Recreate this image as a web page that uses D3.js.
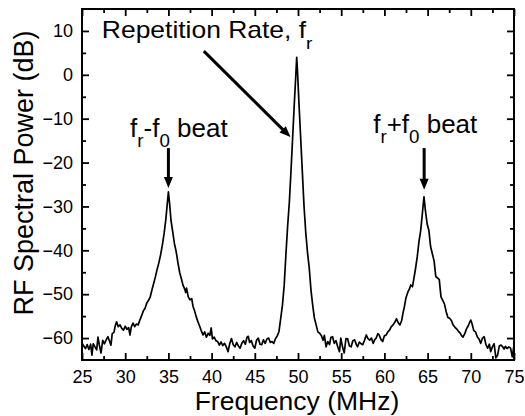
<!DOCTYPE html>
<html>
<head>
<meta charset="utf-8">
<script src="https://cdn.jsdelivr.net/npm/d3@7/dist/d3.min.js"></script>
<style>
	body { margin: 0; background: #fff; }
	svg text { font-family: "Liberation Sans", Arial, Helvetica, sans-serif; fill: #000; }
</style>
</head>
<body>
<div id="wrapper"></div>
<script>
// Spectrum (MHz, dB)
const freqMHz = [
	25.0, 25.2, 25.4, 25.6, 25.8, 26.0, 26.15, 26.3, 26.5, 26.7, 26.85, 27.0, 27.2, 27.4, 27.6, 27.8,
	28.0, 28.2, 28.35, 28.5, 28.7, 28.85, 29.0, 29.2, 29.4, 29.6, 29.8, 30.0, 30.2, 30.4, 30.55, 30.7,
	30.9, 31.1, 31.3, 31.5, 31.7, 31.9, 32.1, 32.3, 32.5, 32.7, 32.9, 33.1, 33.3, 33.5, 33.7, 33.9,
	34.1, 34.3, 34.5, 34.7, 34.85, 35.0, 35.15, 35.3, 35.5, 35.7, 35.9, 36.1, 36.3, 36.5, 36.7, 36.9,
	37.0, 37.1, 37.3, 37.5, 37.7, 37.85, 38.0, 38.2, 38.4, 38.6, 38.8, 39.0, 39.2, 39.4, 39.6, 39.8,
	39.95, 40.1, 40.3, 40.5, 40.7, 40.9, 41.1, 41.3, 41.5, 41.7, 41.9, 42.1, 42.3, 42.5, 42.7, 42.9,
	43.1, 43.3, 43.5, 43.7, 43.9, 44.1, 44.25, 44.4, 44.6, 44.8, 45.0, 45.2, 45.4, 45.6, 45.8, 46.0,
	46.2, 46.4, 46.6, 46.8, 47.0, 47.2, 47.4, 47.6, 47.8, 48.0, 48.2, 48.4, 48.6, 48.8, 49.0, 49.2,
	49.4, 49.6, 49.75, 49.85, 49.95, 50.1, 50.3, 50.5, 50.7, 50.9, 51.1, 51.3, 51.5, 51.7, 51.9, 52.1,
	52.3, 52.5, 52.7, 52.9, 53.05, 53.25, 53.45, 53.65, 53.8, 54.0, 54.2, 54.4, 54.6, 54.8, 54.95, 55.15,
	55.35, 55.55, 55.75, 55.95, 56.15, 56.35, 56.55, 56.75, 56.9, 57.1, 57.3, 57.5, 57.7, 57.9, 58.1, 58.3,
	58.5, 58.7, 58.9, 59.05, 59.25, 59.4, 59.6, 59.8, 60.0, 60.2, 60.4, 60.6, 60.8, 61.0, 61.2, 61.4,
	61.6, 61.8, 62.0, 62.15, 62.3, 62.5, 62.7, 62.9, 63.05, 63.25, 63.45, 63.6, 63.8, 64.0, 64.2, 64.4,
	64.58, 64.75, 64.95, 65.15, 65.35, 65.55, 65.75, 65.95, 66.15, 66.35, 66.55, 66.75, 66.95, 67.15, 67.35, 67.55,
	67.75, 67.95, 68.15, 68.35, 68.55, 68.75, 68.95, 69.1, 69.3, 69.5, 69.7, 69.85, 70.0, 70.15, 70.35, 70.55,
	70.75, 70.95, 71.15, 71.35, 71.55, 71.75, 71.95, 72.15, 72.3, 72.5, 72.7, 72.9, 73.1, 73.3, 73.5, 73.7,
	73.85, 74.0, 74.2, 74.4, 74.6, 74.8, 75.0
];
const powerDb = [
	-61.2, -61.8, -62.4, -61.5, -62.6, -61.4, -63.9, -61.3, -62.0, -62.7, -59.8, -61.5, -63.4, -60.5, -61.3, -60.4,
	-59.7, -60.8, -61.6, -59.0, -58.7, -57.2, -56.3, -57.4, -57.0, -57.8, -58.2, -57.3, -58.0, -57.6, -59.3, -57.5,
	-56.6, -57.4, -56.8, -57.0, -55.9, -54.9, -53.8, -53.2, -52.0, -51.4, -50.6, -49.0, -47.5, -46.0, -44.3, -42.8,
	-41.0, -38.8, -36.2, -33.0, -29.8, -26.7, -29.6, -33.2, -35.8, -38.5, -40.3, -42.8, -45.0, -46.5, -48.0, -48.9,
	-49.6, -48.6, -50.6, -51.3, -51.0, -52.8, -53.6, -55.0, -56.2, -57.2, -58.3, -59.3, -58.6, -59.8, -58.9, -59.4,
	-57.7, -60.2, -59.8, -60.6, -60.8, -61.6, -60.9, -61.7, -61.2, -62.0, -63.1, -61.3, -60.1, -61.5, -62.0, -61.0,
	-61.8, -62.3, -61.2, -60.6, -61.4, -59.8, -59.6, -61.0, -60.6, -61.8, -62.3, -60.5, -60.0, -61.4, -61.5, -60.4,
	-61.2, -60.2, -60.0, -61.0, -60.8, -61.2, -60.1, -59.5, -58.5, -55.5, -52.5, -48.0, -41.0, -34.5, -29.0, -21.5,
	-13.5, -5.5, 0.0, 4.0, 0.5, -6.0, -14.0, -22.0, -30.0, -36.0, -40.5, -44.0, -49.0, -52.5, -55.5, -57.0,
	-58.6, -58.9, -59.4, -60.5, -59.4, -62.0, -60.8, -61.5, -59.9, -59.7, -61.2, -60.6, -62.0, -63.1, -60.0, -62.0,
	-63.4, -60.1, -60.2, -61.8, -62.0, -60.6, -60.4, -61.5, -62.0, -60.9, -61.3, -61.5, -60.5, -59.3, -60.1, -60.5,
	-60.0, -61.2, -60.3, -60.0, -59.0, -59.3, -60.3, -60.8, -59.5, -59.3, -58.6, -58.2, -57.4, -57.0, -56.4, -55.6,
	-56.5, -57.0, -56.0, -54.3, -53.0, -50.8, -49.6, -48.8, -47.9, -48.3, -46.0, -44.2, -41.5, -38.0, -35.5, -31.5,
	-27.8, -31.0, -34.0, -35.5, -39.2, -40.8, -42.4, -46.0, -46.3, -46.7, -50.6, -51.4, -52.2, -54.0, -55.3, -55.5,
	-56.0, -57.0, -57.5, -57.9, -58.4, -58.8, -59.5, -59.8, -59.0, -57.9, -57.2, -56.5, -55.9, -56.8, -58.3, -58.6,
	-59.7, -60.2, -61.2, -60.0, -59.7, -61.5, -62.3, -61.4, -63.1, -62.0, -61.3, -64.5, -63.9, -61.8, -61.6, -62.0,
	-62.5, -61.9, -62.4, -62.0, -62.3, -64.3, -61.6
];

// Axis ticks
const xTickValues = [25, 30, 35, 40, 45, 50, 55, 60, 65, 70, 75];
const xMinorTicks = [27.5, 32.5, 37.5, 42.5, 47.5, 52.5, 57.5, 62.5, 67.5, 72.5];
const yTickValues = [-60, -50, -40, -30, -20, -10, 0, 10];
const yMinorTicks = [-55, -45, -35, -25, -15, -5, 5];

function drawSpectrum() {

	// 1. Dimensions

	let dimensions = {
		width: 525,
		height: 416,
		margin: { top: 9, right: 11, bottom: 56, left: 82 }
	};
	dimensions.boundedWidth = dimensions.width - dimensions.margin.left - dimensions.margin.right;
	dimensions.boundedHeight = dimensions.height - dimensions.margin.top - dimensions.margin.bottom;

	// 2. Canvas

	const wrapper = d3.select("#wrapper")
		.append("svg")
		.attr("width", dimensions.width)
		.attr("height", dimensions.height);
	const bounds = wrapper.append("g")
		.attr("transform", `translate(${dimensions.margin.left},${dimensions.margin.top})`);

	// 3. Scales

	const xScale = d3.scaleLinear()
		.domain([25, 75])
		.range([0, dimensions.boundedWidth]);
	const yScale = d3.scaleLinear()
		.domain([-65, 15])
		.range([dimensions.boundedHeight, 0]);

	// 4. Data line

	const lineGenerator = d3.line()
		.x((d, i) => xScale(freqMHz[i]))
		.y(d => yScale(d));

	bounds.append("path")
		.datum(powerDb)
		.attr("d", lineGenerator)
		.attr("fill", "none")
		.attr("stroke", "#000")
		.attr("stroke-width", 1.7)
		.attr("stroke-linejoin", "round");

	// 5. Axes (ticks point inwards on all four sides)

	const tickStyle = g => {
		g.select(".domain").remove();
		g.selectAll(".tick line").attr("stroke", "#000").attr("stroke-width", 1.8);
		g.selectAll(".tick text").style("font-size", "18px");
	};

	bounds.append("g")
		.attr("transform", `translate(0,${dimensions.boundedHeight})`)
		.call(d3.axisBottom(xScale).tickValues(xTickValues).tickSizeInner(-7).tickSizeOuter(0).tickPadding(10).tickFormat(d3.format("d")))
		.call(tickStyle);
	bounds.append("g")
		.attr("transform", `translate(0,${dimensions.boundedHeight})`)
		.call(d3.axisBottom(xScale).tickValues(xMinorTicks).tickSizeInner(-4).tickSizeOuter(0).tickFormat(""))
		.call(tickStyle);
	bounds.append("g")
		.call(d3.axisTop(xScale).tickValues(xTickValues).tickSizeInner(-7).tickSizeOuter(0).tickFormat(""))
		.call(tickStyle);
	bounds.append("g")
		.call(d3.axisTop(xScale).tickValues(xMinorTicks).tickSizeInner(-4).tickSizeOuter(0).tickFormat(""))
		.call(tickStyle);

	bounds.append("g")
		.call(d3.axisLeft(yScale).tickValues(yTickValues).tickSizeInner(-7).tickSizeOuter(0).tickPadding(9).tickFormat(d3.format("d")))
		.call(tickStyle);
	bounds.append("g")
		.call(d3.axisLeft(yScale).tickValues(yMinorTicks).tickSizeInner(-4).tickSizeOuter(0).tickFormat(""))
		.call(tickStyle);
	bounds.append("g")
		.attr("transform", `translate(${dimensions.boundedWidth},0)`)
		.call(d3.axisRight(yScale).tickValues(yTickValues).tickSizeInner(-7).tickSizeOuter(0).tickFormat(""))
		.call(tickStyle);
	bounds.append("g")
		.attr("transform", `translate(${dimensions.boundedWidth},0)`)
		.call(d3.axisRight(yScale).tickValues(yMinorTicks).tickSizeInner(-4).tickSizeOuter(0).tickFormat(""))
		.call(tickStyle);

	// frame
	bounds.append("rect")
		.attr("x", xScale(25))
		.attr("y", yScale(15))
		.attr("width", xScale(75) - xScale(25))
		.attr("height", yScale(-65) - yScale(15))
		.attr("fill", "none")
		.attr("stroke", "#000")
		.attr("stroke-width", 2);

	// axis titles
	wrapper.append("text")
		.attr("x", 297)
		.attr("y", 410)
		.attr("text-anchor", "middle")
		.style("font-size", "26.5px")
		.text("Frequency (MHz)");

	wrapper.append("text")
		.attr("transform", "translate(33,173) rotate(-90)")
		.attr("text-anchor", "middle")
		.style("font-size", "27px")
		.text("RF Spectral Power (dB)");

	// 6. Annotations

	function addLabel(parts, f, db, size, stretch, subShift) {
		const label = bounds.append("text")
			.attr("transform", `translate(${xScale(f)},${yScale(db)}) scale(${stretch},1)`)
			.style("font-size", size + "px");
		let shifted = false;
		parts.forEach(([txt, sub]) => {
			const span = label.append("tspan").text(txt);
			if (sub) {
				span.style("font-size", (size * 0.72) + "px");
				if (!shifted) { span.attr("dy", subShift); shifted = true; }
			} else if (shifted) {
				span.attr("dy", -subShift);
				shifted = false;
			}
		});
	}

	addLabel([["Repetition Rate, f", 0], ["r", 1]], 27.3, 8.5, 23, 1.15, 11);
	addLabel([["f", 0], ["r", 1], ["-f", 0], ["0", 1], [" beat", 0]], 30.56, -14.2, 26, 1, 10);
	addLabel([["f", 0], ["r", 1], ["+f", 0], ["0", 1], [" beat", 0]], 58.7, -13.3, 26, 1, 10);

	function addArrow(from, to) {
		const x1 = xScale(from[0]), y1 = yScale(from[1]);
		const x2 = xScale(to[0]), y2 = yScale(to[1]);
		const len = Math.hypot(x2 - x1, y2 - y1);
		const ux = (x2 - x1) / len, uy = (y2 - y1) / len;
		const headLen = 11, headHalf = 4.5;
		const bx = x2 - ux * headLen, by = y2 - uy * headLen;
		bounds.append("line")
			.attr("x1", x1).attr("y1", y1)
			.attr("x2", bx + ux).attr("y2", by + uy)
			.attr("stroke", "#000")
			.attr("stroke-width", 3);
		bounds.append("path")
			.attr("d", `M${x2},${y2}L${bx - uy * headHalf},${by + ux * headHalf}L${bx + uy * headHalf},${by - ux * headHalf}Z`)
			.attr("fill", "#000");
	}

	addArrow([39.1, 5.4], [49.13, -14.2]);
	addArrow([35.0, -16.7], [35.0, -25.8]);
	addArrow([64.6, -16.7], [64.6, -26.2]);
}

drawSpectrum();
</script>
</body>
</html>
